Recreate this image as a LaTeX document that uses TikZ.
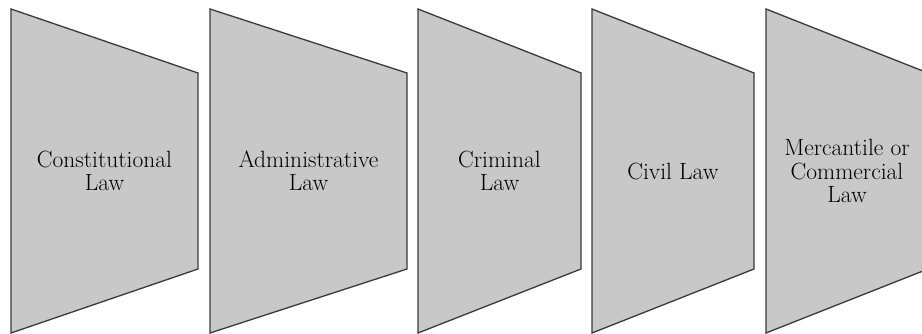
\documentclass[tikz,border=0pt]{standalone}
\begin{document}
\begin{tikzpicture}[x=1pt,y=-1pt,
  lawshape/.style={fill=shapegray,draw=edgegray,line width=1.3pt,line join=miter},
  lawtext/.style={align=center,font=\fontsize{23.5}{23.5}\selectfont,text=black,inner sep=0pt}]
\definecolor{shapegray}{HTML}{C8C8C8}
\definecolor{edgegray}{HTML}{3A3A3A}
\useasboundingbox (0,0) rectangle (922,334);
\begin{scope}
\clip (0,0) rectangle (922,334);
\draw[lawshape] (11,9) -- (198,73) -- (198,269) -- (11,333) -- cycle;
\draw[lawshape] (210,9) -- (407,73) -- (407,269) -- (210,333) -- cycle;
\draw[lawshape] (418,9) -- (581,73) -- (581,269) -- (418,333) -- cycle;
\draw[lawshape] (592,9) -- (754,73) -- (754,269) -- (592,333) -- cycle;
\draw[lawshape] (766,9) -- (928,73) -- (928,269) -- (766,333) -- cycle;
\end{scope}
\node[lawtext] (t1) at (104.5,171) {Constitutional\\Law};
\node[lawtext] (t2) at (308.5,171) {Administrative\\Law};
\node[lawtext] (t3) at (499.5,171) {Criminal\\Law};
\node[lawtext] (t4) at (673,171) {Civil Law};
\node[lawtext] (t5) at (847,171) {Mercantile or\\Commercial\\Law};
\end{tikzpicture}
\end{document}
